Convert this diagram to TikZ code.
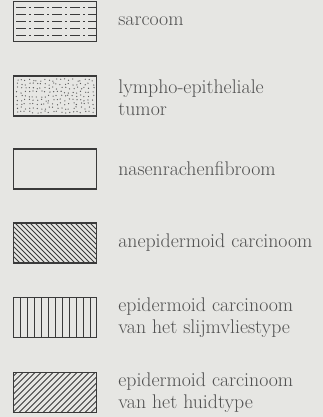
\documentclass[tikz,border=0pt]{standalone}
\usetikzlibrary{positioning}
\definecolor{cpaper}{HTML}{E6E6E3}
\definecolor{cink}{HTML}{3A3A3A}
\definecolor{ctext}{HTML}{505050}
\tikzset{
  every picture/.style={x=1pt, y=1pt},
  legbox/.style={draw=cink, line width=1.3pt, minimum width=83pt, minimum height=40pt, inner sep=0pt},
  legtext/.style={text=ctext, font=\fontsize{19.8}{22}\selectfont, align=left, inner sep=0pt, anchor=west},
  hatch/.style={cink, line width=0.8pt},
  dashrows/.style={path picture={
    \foreach \r in {-14,-7,...,14}
      \draw[hatch, line width=1.2pt, dash pattern=on 10pt off 3pt on 2pt off 3pt]
        ([xshift=-39pt, yshift=\r pt]path picture bounding box.center) -- ++(80pt,0);}},
  stipple/.style={path picture={
    \pgfmathsetseed{11}
    \foreach \i in {-38,-34,...,38} \foreach \j in {-16,-12,...,16}
      \fill[cink!85] ([xshift=\i pt+rand*1.2pt, yshift=\j pt+rand*1.2pt]path picture bounding box.center) circle (0.65pt);}},
  backhatch/.style={path picture={
    \foreach \i in {-70,-65,...,70}
      \draw[hatch] ([xshift=\i pt]path picture bounding box.center) ++(-25pt,25pt) -- ++(50pt,-50pt);}},
  vhatch/.style={path picture={
    \foreach \i in {-35,-28,...,35}
      \draw[hatch] ([xshift=\i pt]path picture bounding box.center) ++(0,-25pt) -- ++(0,50pt);}},
  forehatch/.style={path picture={
    \foreach \i in {-70,-64,...,70}
      \draw[hatch] ([xshift=\i pt]path picture bounding box.center) ++(-25pt,-25pt) -- ++(50pt,50pt);}},
}

\begin{document}
\begin{tikzpicture}
  \fill[cpaper] (0,0) rectangle (323,-417);
  \useasboundingbox (0,0) rectangle (323,-417);
  % legend boxes
  \node[legbox, dashrows] (sarc) at (55,-21.5) {};
  \node[legbox, stipple] (lymph) at (55,-96) {};
  \node[legbox] (fibr) at (55,-169) {};
  \node[legbox, backhatch] (anep) at (55,-243) {};
  \node[legbox, vhatch] (slijm) at (55,-317.5) {};
  \node[legbox, forehatch] (huid) at (55,-392.5) {};
  % labels
  \node[legtext, right=21pt of sarc] (tsarc) {sarcoom};
  \node[legtext, right=21pt of lymph, yshift=-2pt] (tlymph) {lympho-epitheliale\\tumor};
  \node[legtext, right=21pt of fibr] (tfibr) {nasenrachenfibroom};
  \node[legtext, right=21pt of anep] (tanep) {anepidermoid\ carcinoom};
  \node[legtext, right=21pt of slijm] (tslijm) {epidermoid\ carcinoom\\van\ het\ slijmvliestype};
  \node[legtext, right=21pt of huid] (thuid) {epidermoid\ carcinoom\\van\ het\ huidtype};
\end{tikzpicture}
\end{document}
